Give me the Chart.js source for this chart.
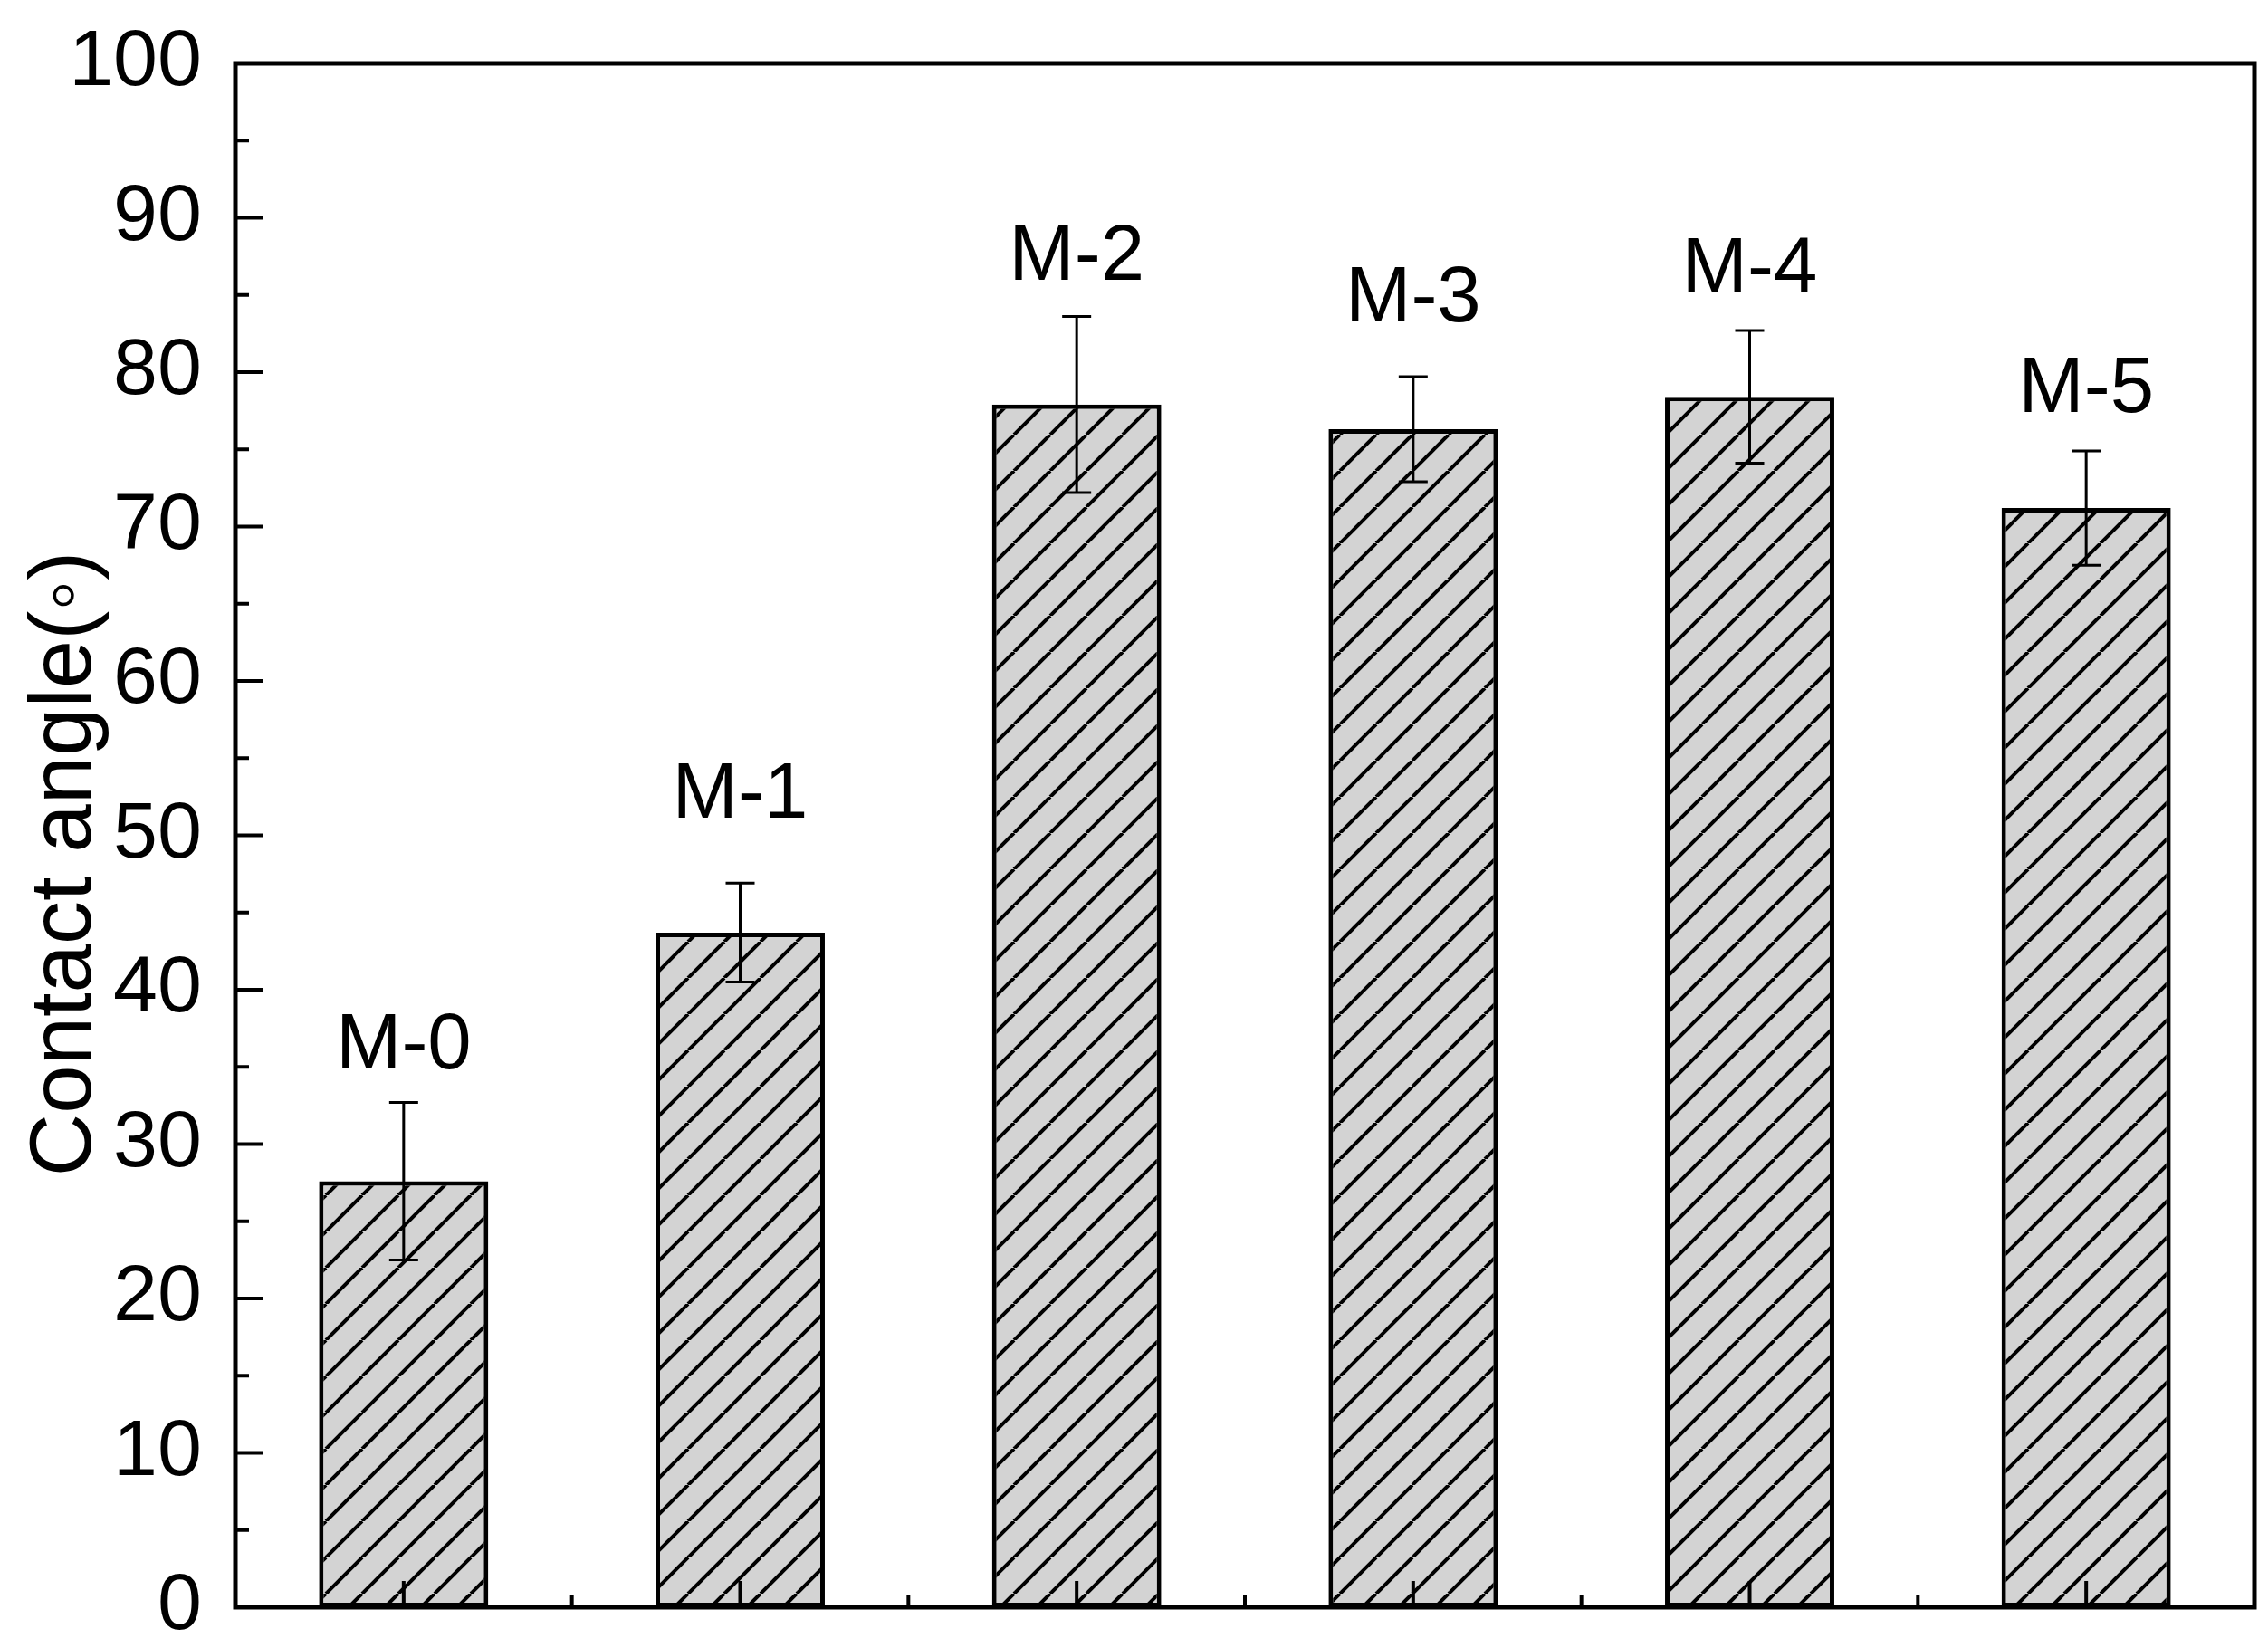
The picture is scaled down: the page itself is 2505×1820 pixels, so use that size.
<!DOCTYPE html>
<html>
<head>
<meta charset="utf-8">
<script src="https://cdn.jsdelivr.net/npm/chart.js@4.4.1/dist/chart.umd.min.js"></script>
<style>
  html, body { margin: 0; padding: 0; background: #fff; }
  canvas { display: block; }
</style>
</head>
<body>
<canvas id="myChart" width="2505" height="1820"></canvas>
<script>
const samples = ['M-0', 'M-1', 'M-2', 'M-3', 'M-4', 'M-5'];
const angles = [27.6, 43.7, 77.9, 76.3, 78.4, 71.2];
const errors = [5.1, 3.2, 5.7, 3.4, 4.3, 3.7];
const yTicks = [0, 10, 20, 30, 40, 50, 60, 70, 80, 90, 100];

// gap in px between top of error bar and label baseline
const labelGap = [37, 72, 41, 61, 42, 43];

const font = '"Liberation Sans", Arial, sans-serif';

function hatch() {
    const c = document.createElement('canvas');
    c.width = 40;
    c.height = 40;
    const g = c.getContext('2d');
    g.fillStyle = '#d3d3d3';
    g.fillRect(0, 0, 40, 40);
    g.strokeStyle = '#000';
    g.lineWidth = 4;
    for (const x0 of [-40, 0, 40]) {
        g.beginPath();
        g.moveTo(x0, 40);
        g.lineTo(x0 + 40, 0);
        g.stroke();
    }
    return g.createPattern(c, 'repeat');
}

const extras = {
    id: 'extras',
    afterDatasetsDraw(chart) {
        const ctx = chart.ctx;
        const x = chart.scales.x, y = chart.scales.y;
        ctx.save();
        ctx.strokeStyle = '#000';
        ctx.lineWidth = 3;
        ctx.fillStyle = '#000';
        ctx.font = '87px ' + font;
        ctx.textAlign = 'center';
        ctx.textBaseline = 'alphabetic';
        angles.forEach((v, i) => {
            const cx = x.getPixelForValue(i);
            const top = y.getPixelForValue(v + errors[i]);
            const bot = y.getPixelForValue(v - errors[i]);
            ctx.beginPath();
            ctx.moveTo(cx, top);
            ctx.lineTo(cx, bot);
            ctx.moveTo(cx - 16, top);
            ctx.lineTo(cx + 16, top);
            ctx.moveTo(cx - 16, bot);
            ctx.lineTo(cx + 16, bot);
            ctx.stroke();
            ctx.fillText(samples[i], cx, top - labelGap[i]);
        });
        ctx.restore();
    },
    afterDraw(chart) {
        const ctx = chart.ctx;
        const a = chart.chartArea;
        const x = chart.scales.x, y = chart.scales.y;
        ctx.save();
        ctx.strokeStyle = '#000';
        ctx.lineWidth = 5;
        ctx.lineCap = 'square';
        ctx.strokeRect(a.left, a.top, a.right - a.left, a.bottom - a.top);
        ctx.lineCap = 'butt';
        ctx.lineWidth = 4;
        ctx.beginPath();
        for (let v = 0; v <= 100; v += 5) {
            const py = y.getPixelForValue(v);
            const len = v % 10 === 0 ? 30 : 15;
            ctx.moveTo(a.left, py);
            ctx.lineTo(a.left + len, py);
        }
        const step = (a.right - a.left) / samples.length;
        samples.forEach((s, i) => {
            const px = x.getPixelForValue(i);
            ctx.moveTo(px, a.bottom);
            ctx.lineTo(px, a.bottom - 29);
            if (i > 0) {
                ctx.moveTo(a.left + step * i, a.bottom);
                ctx.lineTo(a.left + step * i, a.bottom - 14);
            }
        });
        ctx.stroke();

        // y axis title
        ctx.translate(100, 954);
        ctx.rotate(-Math.PI / 2);
        ctx.fillStyle = '#000';
        ctx.font = '96px ' + font;
        ctx.textAlign = 'center';
        ctx.textBaseline = 'alphabetic';
        ctx.fillText('Contact angle(\u25E6)', 0, 0);
        ctx.restore();
    }
};

new Chart(document.getElementById('myChart'), {
    type: 'bar',
    data: {
        labels: samples,
        datasets: [{
            data: angles,
            backgroundColor: hatch(),
            borderColor: '#000',
            borderWidth: 5,
            borderSkipped: false,
            barPercentage: 0.503,
            categoryPercentage: 1
        }]
    },
    options: {
        responsive: false,
        animation: false,
        devicePixelRatio: 1,
        layout: {
            padding: { left: 0, top: 70, right: 15, bottom: 0 }
        },
        plugins: {
            legend: { display: false },
            tooltip: { enabled: false }
        },
        scales: {
            x: {
                grid: { display: false },
                border: { display: false },
                ticks: { display: false },
                afterFit: s => {
                    s.height = 45;
                    s.paddingLeft = 0; s.paddingRight = 0;
                    s.paddingTop = 0; s.paddingBottom = 0;
                }
            },
            y: {
                min: 0,
                max: 100,
                grid: { display: false, drawTicks: false },
                border: { display: false },
                afterBuildTicks: s => { s.ticks = yTicks.map(v => ({ value: v })); },
                ticks: {
                    color: '#000',
                    padding: 37,
                    font: { size: 88, family: font }
                },
                afterFit: s => {
                    s.width = 260;
                    s.paddingTop = 0; s.paddingBottom = 0;
                    s.paddingLeft = 0; s.paddingRight = 0;
                }
            }
        }
    },
    plugins: [extras]
});
</script>
</body>
</html>
